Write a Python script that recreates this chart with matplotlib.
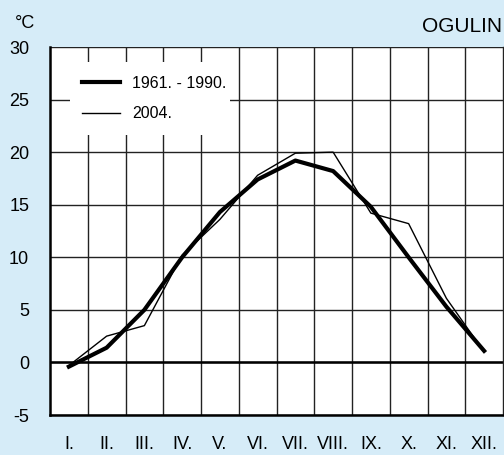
import numpy as np
import matplotlib
matplotlib.use('Agg')
import matplotlib.pyplot as plt
from matplotlib.patches import Rectangle

plt.rcParams['font.family'] = ['Liberation Sans', 'DejaVu Sans']
plt.rcParams['axes.unicode_minus'] = False

# --- dane ---
months = ["I.", "II.", "III.", "IV.", "V.", "VI.", "VII.", "VIII.", "IX.", "X.", "XI.", "XII."]
t_1961_1990 = [-0.4, 1.4, 5.0, 10.0, 14.3, 17.4, 19.2, 18.2, 14.8, 10.0, 5.3, 1.1]
t_2004 = [-0.3, 2.5, 3.5, 10.2, 13.6, 17.8, 19.9, 20.0, 14.2, 13.2, 6.1, 1.0]
yticks = [-5, 0, 5, 10, 15, 20, 25, 30]
station = "OGULIN"

BG = "#d6ecf8"
W, H = 504, 455
AW, AH = 453, 368  # velicina osi u pikselima

fig = plt.figure(figsize=(W / 100, H / 100), dpi=100, facecolor=BG)
ax = fig.add_axes([50 / W, 40 / H, AW / W, AH / H])
ax.set_facecolor("white")

x = np.arange(len(months)) + 0.5
ax.set_xlim(0, len(months))
ax.set_ylim(-5, 30)

# mreža
for xv in range(1, len(months)):
    ax.axvline(xv, color="#222222", lw=1.0, zorder=1)
for yv in yticks:
    ax.axhline(yv, color="#222222", lw=1.0, zorder=1)
ax.axhline(0, color="black", lw=1.8, zorder=1)

ax.plot(x, t_1961_1990, color="black", lw=3.0, label="1961. - 1990.", zorder=3)
ax.plot(x, t_2004, color="black", lw=1.0, label="2004.", zorder=3)

ax.set_xticks(x)
ax.set_xticklabels(months)
ax.set_yticks(yticks)
ax.tick_params(length=0, labelsize=13)
ax.tick_params(axis="x", pad=15)
ax.tick_params(axis="y", pad=15)

ax.spines["top"].set_visible(False)
ax.spines["right"].set_linewidth(1.0)
ax.spines["right"].set_color("#222222")
for side in ["left", "bottom"]:
    ax.spines[side].set_linewidth(1.8)

# bijela podloga legende
ax.add_patch(Rectangle((20 / AW, 280 / AH), 160 / AW, 73 / AH, transform=ax.transAxes,
                       facecolor="white", edgecolor="none", zorder=2))
leg = ax.legend(loc="upper left", bbox_to_anchor=(20 / AW, 351 / AH), frameon=False,
                fontsize=11.5, handlelength=2.4, handletextpad=0.75, borderpad=0.75,
                labelspacing=0.95, borderaxespad=0)
leg.set_zorder(4)

fig.text(25 / W, 1 - 24 / H, "°C", fontsize=13, ha="center", va="center")
fig.text(502 / W, 1 - 27 / H, station, fontsize=15, ha="right", va="center")

fig.savefig("out.png", dpi=100, facecolor=BG)
